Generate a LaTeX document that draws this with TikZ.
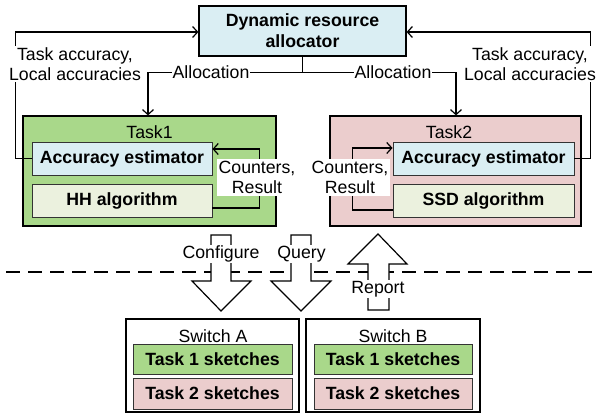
\documentclass[tikz,border=0pt]{standalone}
\usepackage{fontspec}
\setmainfont{Liberation Sans}
\usetikzlibrary{arrows.meta}
\definecolor{tgreen}{RGB}{169,216,138}
\definecolor{tpink}{RGB}{235,205,205}
\definecolor{tblue}{RGB}{218,238,243}
\definecolor{tbeige}{RGB}{235,241,222}
\begin{document}
\begin{tikzpicture}[x=1pt,y=-1pt,
  every node/.style={font=\fontsize{17.7}{20.5}\selectfont, inner sep=0pt},
  line/.style={line width=1.2pt, draw=black},
  arr/.style={line, -{Straight Barb[length=5pt,width=11pt,line width=1.2pt]}},
  box/.style={draw=black, line width=1.2pt, anchor=center},
  inbox/.style={draw=black!80, line width=0.9pt, font=\fontsize{17.7}{20.5}\selectfont\bfseries},
  lbl/.style={fill=white, align=center, inner sep=1.5pt},
  bigarrow/.style={draw=black, line width=1.2pt, fill=white, line join=miter}
]
\useasboundingbox (0,0) rectangle (597,418);
\fill[white] (0,0) rectangle (597,418);

% allocator
\node[box, fill=tblue, minimum width=207pt, minimum height=50pt, align=center,
  font=\fontsize{17.7}{21}\selectfont\bfseries] (alloc) at (302.5,31) {Dynamic resource\\allocator};

% task boxes
\node[box, fill=tgreen, minimum width=253pt, minimum height=110pt] (task1) at (149.5,171) {};
\node[box, fill=tpink, minimum width=251pt, minimum height=110pt] (task2) at (455.5,171) {};
\node (t1lbl) at (149.5,132) {Task1};
\node (t2lbl) at (449,132) {Task2};

\node[inbox, fill=tblue, minimum width=180pt, minimum height=33pt] (est1) at (122,158.5) {Accuracy estimator};
\node[inbox, fill=tbeige, minimum width=180pt, minimum height=33pt] (hh) at (122,200.5) {HH algorithm};
\node[inbox, fill=tblue, minimum width=181pt, minimum height=33pt] (est2) at (483.5,158.5) {Accuracy estimator};
\node[inbox, fill=tbeige, minimum width=181pt, minimum height=33pt] (ssd) at (483.5,200.5) {SSD algorithm};

% counters loops
\draw[arr] ([yshift=-7.5pt]hh.east) -- ++(47,0) |- ([yshift=9.5pt]est1.east);
\draw[arr] ([yshift=-9.5pt]ssd.west) -- ++(-40,0) |- ([yshift=10.5pt]est2.west);
\node[lbl, minimum width=78pt, minimum height=35pt] (c1) at (257,177.5) {Counters,\\Result};
\node[lbl, minimum width=80pt, minimum height=35pt] (c2) at (350,177.5) {Counters,\\Result};

% feedback
\draw[arr] (est1.west) -- ++(-16,0) |- ([yshift=-1pt]alloc.west);
\draw[arr] (est2.east) -- ++(16,0) |- ([yshift=-1pt]alloc.east);
\node[lbl] (fb1) at (75,64) {Task accuracy,\\Local accuracies};
\node[lbl] (fb2) at (530,64) {Task accuracy,\\Local accuracies};

% allocation
\coordinate (aj) at ([yshift=-16pt]alloc.south);
\draw[line] (alloc.south) -- (aj);
\draw[arr] (aj) -| ([xshift=-1.5pt]task1.north);
\draw[arr] (aj) -| ([xshift=0.5pt]task2.north);
\node[lbl, inner sep=1pt] (al1) at (211,72) {Allocation};
\node[lbl, inner sep=1pt] (al2) at (393,72) {Allocation};

% dashed line
\draw[line, dash pattern=on 14pt off 8pt] (6,272) -- (597,272);

% big arrows
\draw[bigarrow] (211,235) -- (231,235) -- (231,281) -- (251,281) -- (221,311) -- (192,281) -- (211,281) -- cycle;
\draw[bigarrow] (291,235) -- (311,235) -- (311,281) -- (331,281) -- (301,311) -- (271,281) -- (291,281) -- cycle;
\draw[bigarrow] (368,310) -- (389,310) -- (389,264) -- (407,264) -- (378,234) -- (348,264) -- (368,264) -- cycle;
\node[lbl, inner sep=1pt] (cfg) at (221,254) {Configure};
\node[lbl, inner sep=1pt] (qry) at (301.5,254) {Query};
\node[lbl, inner sep=1pt] (rep) at (378,289) {Report};

% switches
\node[box, minimum width=173pt, minimum height=93pt] (swa) at (212.5,365.5) {};
\node[box, minimum width=174pt, minimum height=93pt] (swb) at (393,365.5) {};
\node (swal) at (213,336) {Switch A};
\node (swbl) at (393,336) {Switch B};
\node[inbox, fill=tgreen, minimum width=159pt, minimum height=30pt] (a1) at (212.5,359) {Task 1 sketches};
\node[inbox, fill=tpink, minimum width=159pt, minimum height=31pt] (a2) at (212.5,393.5) {Task 2 sketches};
\node[inbox, fill=tgreen, minimum width=158pt, minimum height=30pt] (b1) at (393,359) {Task 1 sketches};
\node[inbox, fill=tpink, minimum width=158pt, minimum height=31pt] (b2) at (393,393.5) {Task 2 sketches};
\end{tikzpicture}
\end{document}
